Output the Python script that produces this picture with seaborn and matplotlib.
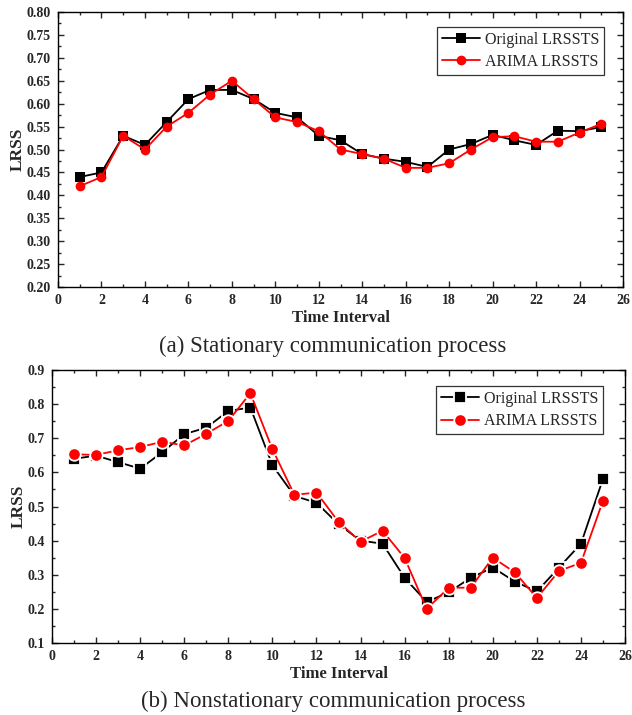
import numpy as np
import pandas as pd
import matplotlib
matplotlib.use("Agg")
import matplotlib.pyplot as plt
import seaborn as sns
from matplotlib.ticker import MultipleLocator

time_interval = list(range(1, 26))

stat_original = [0.44, 0.45, 0.53, 0.51, 0.56, 0.61, 0.63, 0.63, 0.61, 0.58,
                 0.57, 0.53, 0.52, 0.49, 0.48, 0.473, 0.462, 0.50, 0.512, 0.532,
                 0.520, 0.510, 0.541, 0.540, 0.549]
stat_arima = [0.42, 0.44, 0.53, 0.50, 0.55, 0.58, 0.62, 0.65, 0.61, 0.57,
              0.56, 0.54, 0.50, 0.49, 0.48, 0.46, 0.46, 0.47, 0.50, 0.527,
              0.529, 0.517, 0.517, 0.537, 0.556]

nonstat_original = [0.640, 0.649, 0.630, 0.611, 0.659, 0.712, 0.731, 0.780, 0.790, 0.621,
                    0.531, 0.511, 0.448, 0.400, 0.391, 0.291, 0.220, 0.249, 0.291, 0.321,
                    0.280, 0.251, 0.321, 0.391, 0.581]
nonstat_arima = [0.653, 0.651, 0.665, 0.674, 0.690, 0.679, 0.713, 0.751, 0.832, 0.668,
                 0.534, 0.541, 0.455, 0.397, 0.429, 0.349, 0.200, 0.262, 0.262, 0.350,
                 0.307, 0.232, 0.311, 0.335, 0.517]

series_names = ["Original LRSSTS", "ARIMA LRSSTS"]
captions = ["(a) Stationary communication process", "(b) Nonstationary communication process"]

sns.set_style("ticks")
plt.rcParams["font.family"] = ["Liberation Serif", "DejaVu Serif"]
plt.rcParams["xtick.direction"] = "in"
plt.rcParams["ytick.direction"] = "in"

fig = plt.figure(figsize=(6.32, 7.15), dpi=100)
ax1 = fig.add_axes([0.0918, 0.5986, 0.894, 0.3846])
ax2 = fig.add_axes([0.0823, 0.1007, 0.9067, 0.3818])

def make_df(orig, arima):
    return pd.DataFrame({
        "t": time_interval * 2,
        "v": list(orig) + list(arima),
        "s": [series_names[0]] * len(orig) + [series_names[1]] * len(arima),
    })

df1 = make_df(stat_original, stat_arima)
df2 = make_df(nonstat_original, nonstat_arima)
pal = {series_names[0]: "black", series_names[1]: "#ff0000"}

sns.lineplot(data=df1, x="t", y="v", hue="s", style="s", palette=pal,
             markers={series_names[0]: "s", series_names[1]: "o"}, dashes=False,
             markersize=7, markeredgewidth=0, linewidth=1.3, ax=ax1)
sns.lineplot(data=df2, x="t", y="v", hue="s", style="s", palette=pal,
             markers={series_names[0]: "s", series_names[1]: "o"}, dashes=False,
             markersize=9, markeredgecolor="white", markeredgewidth=1.3,
             linewidth=1.3, ax=ax2)

def style_ax(ax, ylim, major, minor, fmt, anchor):
    ax.set_xlim(0, 26)
    ax.set_ylim(*ylim)
    ax.xaxis.set_major_locator(MultipleLocator(2))
    ax.xaxis.set_minor_locator(MultipleLocator(1))
    ax.yaxis.set_major_locator(MultipleLocator(major))
    ax.yaxis.set_minor_locator(MultipleLocator(minor))
    ax.yaxis.set_major_formatter(plt.FormatStrFormatter(fmt))
    ax.tick_params(which="both", top=True, right=True, direction="in", width=1.0)
    ax.tick_params(which="major", length=4.5, labelsize=10, pad=5)
    ax.tick_params(which="minor", length=2.5)
    for lab in ax.get_xticklabels() + ax.get_yticklabels():
        lab.set_fontweight("bold")
    for sp in ax.spines.values():
        sp.set_linewidth(1.0)
        sp.set_color("black")
    ax.set_xlabel("Time Interval", fontsize=12, fontweight="bold", labelpad=2)
    ax.set_ylabel("LRSS", fontsize=12.5, fontweight="bold", labelpad=1)
    leg = ax.legend(loc="upper right", bbox_to_anchor=anchor, fontsize=11.5,
                    frameon=True, fancybox=False, edgecolor="black",
                    handlelength=2.4, handletextpad=0.3, borderpad=0.3,
                    labelspacing=0.4, borderaxespad=0)
    leg.get_frame().set_linewidth(0.9)

style_ax(ax1, (0.20, 0.80), 0.05, 0.025, "%.2f", (0.966, 0.9465))
style_ax(ax2, (0.1, 0.9), 0.1, 0.05, "%.1f", (0.9616, 0.941))

fig.text(0.527, 0.516, captions[0], ha="center", va="center", fontsize=16.5)
fig.text(0.527, 0.0185, captions[1], ha="center", va="center", fontsize=16.5)

fig.savefig("out.png", dpi=100)
